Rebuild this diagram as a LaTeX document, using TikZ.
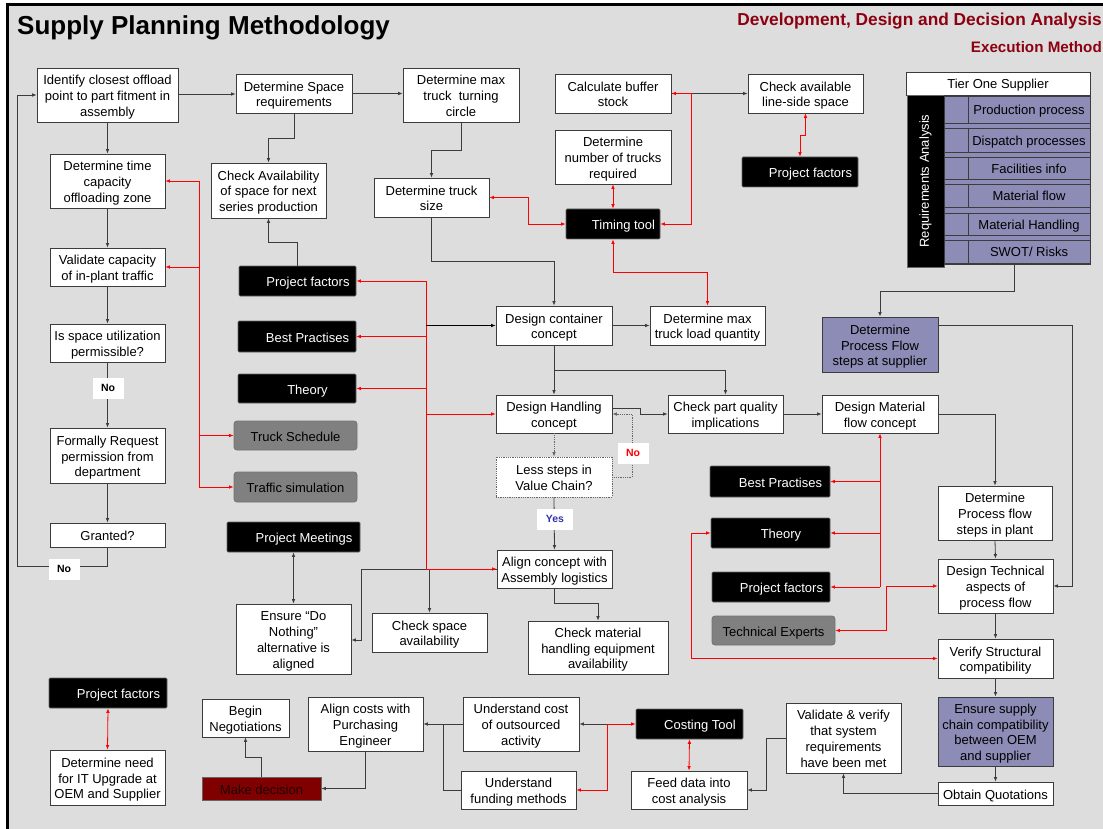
\documentclass[tikz,border=0pt]{standalone}
\usepackage{fontspec}
\setmainfont{Liberation Sans}
\usetikzlibrary{arrows.meta}

\definecolor{bg}{RGB}{221,221,221}
\definecolor{lav}{RGB}{140,140,182}
\definecolor{deepred}{RGB}{128,0,0}
\definecolor{headred}{RGB}{140,0,16}
\definecolor{yesblue}{RGB}{51,51,170}
\definecolor{boxgray}{RGB}{128,128,128}
\definecolor{linegray}{RGB}{60,60,60}

% struts giving every box text the same first-line height and last-line depth
\newcommand\firststrut{\rule{0pt}{13.8pt}}
\newcommand\laststrut{\rule[-2.8pt]{0pt}{2.8pt}}

% box from its corner coordinates: name, x1, y1, x2, y2, style, text
\newcommand\mkbox[7]{%
  \pgfmathsetmacro\mkw{#4-#2}%
  \pgfmathsetmacro\mkh{#5-#3}%
  \pgfmathsetmacro\mkx{(#2+#4)/2}%
  \pgfmathsetmacro\mky{(#3+#5)/2}%
  \node[#6, minimum width=\mkw pt, minimum height=\mkh pt] (#1) at (\mkx,\mky) {\firststrut#7\laststrut};}

\tikzset{
  basebox/.style={inner sep=0pt, align=center, font=\fontsize{13}{15.8}\selectfont},
  wbox/.style={basebox, fill=white, draw=linegray, line width=0.8pt},
  pbox/.style={basebox, fill=lav, draw=linegray, line width=0.9pt},
  kbox/.style={basebox, fill=black, draw=black!60, line width=0.6pt, text=white, rounded corners=1pt},
  gbox/.style={basebox, fill=boxgray, draw=black!55, line width=0.8pt, rounded corners=3pt, text=black},
  dbox/.style={basebox, fill=deepred, draw=black!60, line width=0.8pt, text=black!75!deepred},
  qbox/.style={basebox, fill=white, draw=black!60, densely dotted, line width=0.8pt},
  flow/.style={draw=linegray, line width=0.8pt, ->},
  link/.style={draw=linegray, line width=0.8pt},
  dflow/.style={draw=black!60, line width=0.8pt, densely dotted, ->},
  rflow/.style={draw=red, line width=0.8pt, ->},
  rboth/.style={draw=red, line width=0.8pt, <->},
  rline/.style={draw=red, line width=0.8pt},
  tag/.style={fill=white, inner sep=0pt, minimum width=31pt, minimum height=21pt,
    font=\fontsize{10.5}{12}\selectfont\bfseries},
}

\begin{document}
\begin{tikzpicture}[x=1pt, y=-1pt, >={Latex[length=4.5pt,width=3.6pt]}]
\useasboundingbox (0,0) rectangle (1103,829);

% page background and frame
\fill[white] (0,0) rectangle (1103,829);
\fill[bg] (8,5) rectangle (1103,829);
\draw[line width=2.4pt] (7.6,829) -- (7.6,4.6) -- (1103,4.6);

% headings
\node[anchor=base west, inner sep=0pt, font=\fontsize{26}{30}\selectfont\bfseries] (title) at (17,35) {Supply Planning Methodology};
\node[anchor=base east, inner sep=0pt, text=headred, font=\fontsize{17.3}{20}\selectfont\bfseries] (headA) at (1102,26) {Development, Design and Decision Analysis};
\node[anchor=base east, inner sep=0pt, text=headred, font=\fontsize{15.2}{18}\selectfont\bfseries] (headB) at (1102,53) {Execution Method};

% ---------- process boxes ----------
\mkbox{ident}{37}{68}{178}{122}{wbox}{Identify closest offload\\point to part fitment in\\assembly}
\mkbox{space}{236}{74}{352}{113}{wbox}{Determine Space\\requirements}
\mkbox{turn}{403}{68}{519}{122}{wbox}{Determine max\\truck~ turning\\circle}
\mkbox{timecap}{50}{154}{165}{208}{wbox}{Determine time\\capacity\\offloading zone}
\mkbox{avail}{211}{163}{326}{218}{wbox}{Check Availability\\of space for next\\series production}
\mkbox{trucksize}{374}{178}{489}{217}{wbox}{Determine truck\\size}
\mkbox{buffer}{555}{74}{671}{113}{wbox}{Calculate buffer\\stock}
\mkbox{lineside}{748}{74}{863}{113}{wbox}{Check available\\line-side space}
\mkbox{numtrucks}{555}{130}{671}{184}{wbox}{Determine\\number of trucks\\required}
\mkbox{validcap}{50}{248}{165}{286}{wbox}{Validate capacity\\of in-plant traffic}
\mkbox{isspace}{50}{324}{165}{362}{wbox}{Is space utilization\\permissible?}
\mkbox{formally}{50}{428}{165}{483}{wbox}{Formally Request\\permission from\\department}
\mkbox{granted}{50}{523}{165}{547}{wbox}{Granted?}
\mkbox{container}{496}{306}{612}{345}{wbox}{Design container\\concept}
\mkbox{maxload}{650}{306}{765}{345}{wbox}{Determine max\\truck load quantity}
\mkbox{handling}{496}{395}{612}{433}{wbox}{Design Handling\\concept}
\mkbox{quality}{668}{395}{783}{433}{wbox}{Check part quality\\implications}
\mkbox{matflow}{822}{395}{938}{433}{wbox}{Design Material\\flow concept}
\mkbox{lesssteps}{496}{457}{612}{497}{qbox}{Less steps in\\Value Chain?}
\mkbox{align}{497}{550}{612}{588}{wbox}{Align concept with\\Assembly logistics}
\mkbox{donothing}{236}{604}{351}{674}{wbox}{Ensure “Do\\Nothing”\\alternative is\\aligned}
\mkbox{checkspace}{372}{613}{487}{652}{wbox}{Check space\\availability}
\mkbox{checkmat}{528}{621}{668}{674}{wbox}{Check material\\handling equipment\\availability}
\mkbox{plantsteps}{938}{486}{1052}{540}{wbox}{Determine\\Process flow\\steps in plant}
\mkbox{technical}{938}{559}{1053}{613}{wbox}{Design Technical\\aspects of\\process flow}
\mkbox{verify}{938}{639}{1053}{678}{wbox}{Verify Structural\\compatibility}
\mkbox{quotes}{938}{782}{1053}{805}{wbox}{Obtain Quotations}
\mkbox{validate}{786}{703}{901}{773}{wbox}{Validate \& verify\\that system\\requirements\\have been met}
\mkbox{feed}{631}{771}{747}{809}{wbox}{Feed data into\\cost analysis}
\mkbox{outsourced}{463}{697}{579}{751}{wbox}{Understand cost\\of outsourced\\activity}
\mkbox{funding}{461}{771}{576}{809}{wbox}{Understand\\funding methods}
\mkbox{aligncost}{308}{697}{423}{751}{wbox}{Align costs with\\Purchasing\\Engineer}
\mkbox{negotiate}{202}{699}{289}{737}{wbox}{Begin\\Negotiations}
\mkbox{itneed}{50}{750}{165}{805}{wbox}{Determine need\\for IT Upgrade at\\OEM and Supplier}

\mkbox{supplier}{822}{317}{938}{372}{pbox}{Determine\\Process Flow\\steps at supplier}
\mkbox{ensure}{938}{697}{1053}{766}{pbox}{Ensure supply\\chain compatibility\\between OEM\\and supplier}

\mkbox{decision}{202}{777}{321}{800}{dbox}{Make decision}

% ---------- input boxes ----------
\mkbox{timing}{566}{209}{660}{239}{kbox}{\hspace*{21pt}Timing tool}
\mkbox{pftr}{742}{157}{858}{187}{kbox}{\hspace*{21pt}Project factors}
\mkbox{pfl}{239}{266}{356}{296}{kbox}{\hspace*{21pt}Project factors}
\mkbox{bpl}{238}{321}{356}{352}{kbox}{\hspace*{21pt}Best Practises}
\mkbox{thl}{238}{374}{356}{403}{kbox}{\hspace*{21pt}Theory}
\mkbox{meetings}{227}{522}{360}{552}{kbox}{\hspace*{21pt}Project Meetings}
\mkbox{bpr}{710}{466}{830}{497}{kbox}{\hspace*{21pt}Best Practises}
\mkbox{thr}{711}{518}{830}{548}{kbox}{\hspace*{21pt}Theory}
\mkbox{pfr}{712}{572}{830}{602}{kbox}{\hspace*{21pt}Project factors}
\mkbox{pfbl}{49}{678}{167}{708}{kbox}{\hspace*{21pt}Project factors}
\mkbox{costing}{636}{709}{743}{739}{kbox}{\hspace*{21pt}Costing Tool}

\mkbox{truckschedule}{234}{421}{357}{450}{gbox}{Truck Schedule}
\mkbox{trafficsim}{234}{472}{357}{502}{gbox}{Traffic simulation}
\mkbox{experts}{712}{616}{835}{645}{gbox}{Technical Experts}

% ---------- supplier requirements table ----------
\mkbox{tier}{906}{72}{1090}{95}{wbox}{Tier One Supplier}
\mkbox{reqbar}{907}{95}{944}{267}{kbox, rounded corners=0pt}{}
\node[rotate=90, text=white, inner sep=0pt, font=\fontsize{13}{15.8}\selectfont] (reqtext) at (reqbar.center) {Requirements Analysis};
\fill[lav] (944,95) rectangle (1090,264);
\mkbox{rowA}{968}{96}{1090}{123}{pbox, line width=0.8pt}{Production process}
\mkbox{rowB}{968}{128}{1090}{152}{pbox, line width=0.8pt}{Dispatch processes}
\mkbox{rowC}{968}{157}{1090}{179}{pbox, line width=0.8pt}{Facilities info}
\mkbox{rowD}{968}{184}{1090}{207}{pbox, line width=0.8pt}{Material flow}
\mkbox{rowE}{968}{213}{1090}{235}{pbox, line width=0.8pt}{Material Handling}
\mkbox{rowF}{968}{240}{1090}{263}{pbox, line width=0.8pt}{SWOT/ Risks}
\foreach \ta/\tb in {96/123,128/152,157/179,184/207,213/235,240/263}
  \draw[linegray, line width=0.8pt] (944,\ta) rectangle (968,\tb);
\draw[linegray, line width=0.8pt] (944,95) rectangle (1090,264);

% ---------- flow connectors ----------
\draw[flow] (ident.east |- 0,94) -- (space.west |- 0,94);
\draw[flow] (space.east) -- (space.east -| turn.west);
\draw[flow] (ident.south) -- (timecap.north);
\draw[flow] (space.south) -- (space.south |- 0,138) -| (avail.north);
\draw[flow] (turn.south) -- (turn.south |- 0,150) -| (trucksize.north);
\draw[flow] (timecap.south) -- (validcap.north);
\draw[flow] (validcap.south) -- (isspace.north);
\draw[flow] (isspace.south) -- (formally.north);
\node[tag] (noA) at (108,388) {No};
\draw[flow] (formally.south) -- (granted.north);
\draw[flow] (granted.south) -- (granted.south |- 0,566) -- (17,566) -- (17,95) -- (ident.west |- 0,95);
\node[tag] (noB) at (64,569) {No};

\draw[flow] (pfl.north) -- (pfl.north |- 0,242) -| (avail.south);
\draw[flow] (trucksize.south) -- (trucksize.south |- 0,261) -| (container.north);
\draw[flow] (container.east) -- (container.east -| maxload.west);
\draw[flow] (container.south) -- (handling.north);
\draw[flow] (container.south |- 0,370) -| (quality.north);
\draw[flow] (handling.east |- 0,408) -- (640,408) -- (640,414) -- (quality.west |- 0,414);
\draw[flow] (quality.east) -- (quality.east -| matflow.west);
\draw[flow] (matflow.east) -| (plantsteps.north);
\draw[dflow] (handling.south) -- (lesssteps.north);
\draw[dflow] (lesssteps.east) -- (632,0 |- lesssteps.east) |- (handling.east |- 0,414);
\node[tag, text=red] (noC) at (633,453) {No};
\draw[flow] (lesssteps.south) -- (align.north);
\node[tag, text=yesblue, minimum width=36pt] (yesA) at (555,519) {Yes};
\draw[flow] (align.west) -- (361,0 |- align.west) |- (donothing.east |- 0,640);
\draw[flow] (checkspace.north |- align.west) -- (checkspace.north);
\draw[flow] (align.south) -- (align.south |- 0,603) -| (checkmat.north);
\draw[flow, <->] (meetings.south) -- (donothing.north);

\draw[flow] (1014,264) -- (1014,291) -| (supplier.north);
\draw[flow] (supplier.east |- 0,325) -| (1072,0 |- technical.east) -- (technical.east);
\draw[flow] (plantsteps.south) -- (technical.north);
\draw[flow] (technical.south) -- (verify.north);
\draw[flow] (verify.south) -- (ensure.north);
\draw[flow] (ensure.south) -- (quotes.north);
\draw[flow] (quotes.west) -| (validate.south);
\draw[flow] (validate.west) -- (766,0 |- validate.west) |- (feed.east);
\draw[flow] (outsourced.west) -- (aligncost.east);
\draw[link] (funding.west) -| (443,0 |- outsourced.west);
\draw[flow] (aligncost.south) |- (decision.east);
\draw[flow] (decision.north) -- (decision.north |- 0,757) -| (negotiate.south);
\draw[flow] (607,0 |- costing.west) -- (outsourced.east);
\draw[flow] (buffer.east) -- (lineside.west);

% ---------- red information links ----------
\draw[rline] (199,0 |- timecap.east) -- (199,0 |- trafficsim.west);
\draw[rflow] (199,0 |- timecap.east) -- (timecap.east);
\draw[rflow] (199,0 |- validcap.east) -- (validcap.east);
\draw[rflow] (199,0 |- truckschedule.west) -- (truckschedule.west);
\draw[rflow] (199,0 |- trafficsim.west) -- (trafficsim.west);

\draw[rline] (426,0 |- pfl.east) -- (426,0 |- align.west);
\draw[rflow] (426,0 |- pfl.east) -- (pfl.east);
\draw[rflow] (426,0 |- bpl.east) -- (bpl.east);
\draw[rflow] (426,0 |- thl.east) -- (thl.east);
\draw[rflow] (426,0 |- handling.west) -- (handling.west);
\draw[rflow] (426,0 |- align.west) -- (align.west);
\draw[flow, draw=black] (426,0 |- container.west) -- (container.west);

\draw[rboth] (trucksize.east) -- (528,0 |- trucksize.east) |- (timing.west);
\draw[rboth] (numtrucks.south) -- (timing.north);
\draw[rboth] (buffer.east) -| (691,0 |- timing.east) -- (timing.east);
\draw[rboth] (lineside.south) -- (lineside.south |- 0,135) -| (pftr.north);
\draw[rboth] (timing.south) -- (timing.south |- 0,272) -| (maxload.north);

\draw[rflow] (880,0 |- pfr.east) -- (matflow.south);
\draw[rflow] (880,0 |- bpr.east) -- (bpr.east);
\draw[rflow] (880,0 |- thr.east) -- (thr.east);
\draw[rflow] (880,0 |- pfr.east) -- (pfr.east);
\draw[rboth] (experts.east) -- (886,0 |- experts.east) |- (technical.west);
\draw[rboth] (thr.west) -- (691,0 |- thr.west) |- (verify.west);

\draw[rboth] (costing.west) -- (607,0 |- costing.west) |- (funding.east);
\draw[rboth] (costing.south) -- (feed.north);
\draw[rboth] (pfbl.south) -- (itneed.north);

\end{tikzpicture}
\end{document}
